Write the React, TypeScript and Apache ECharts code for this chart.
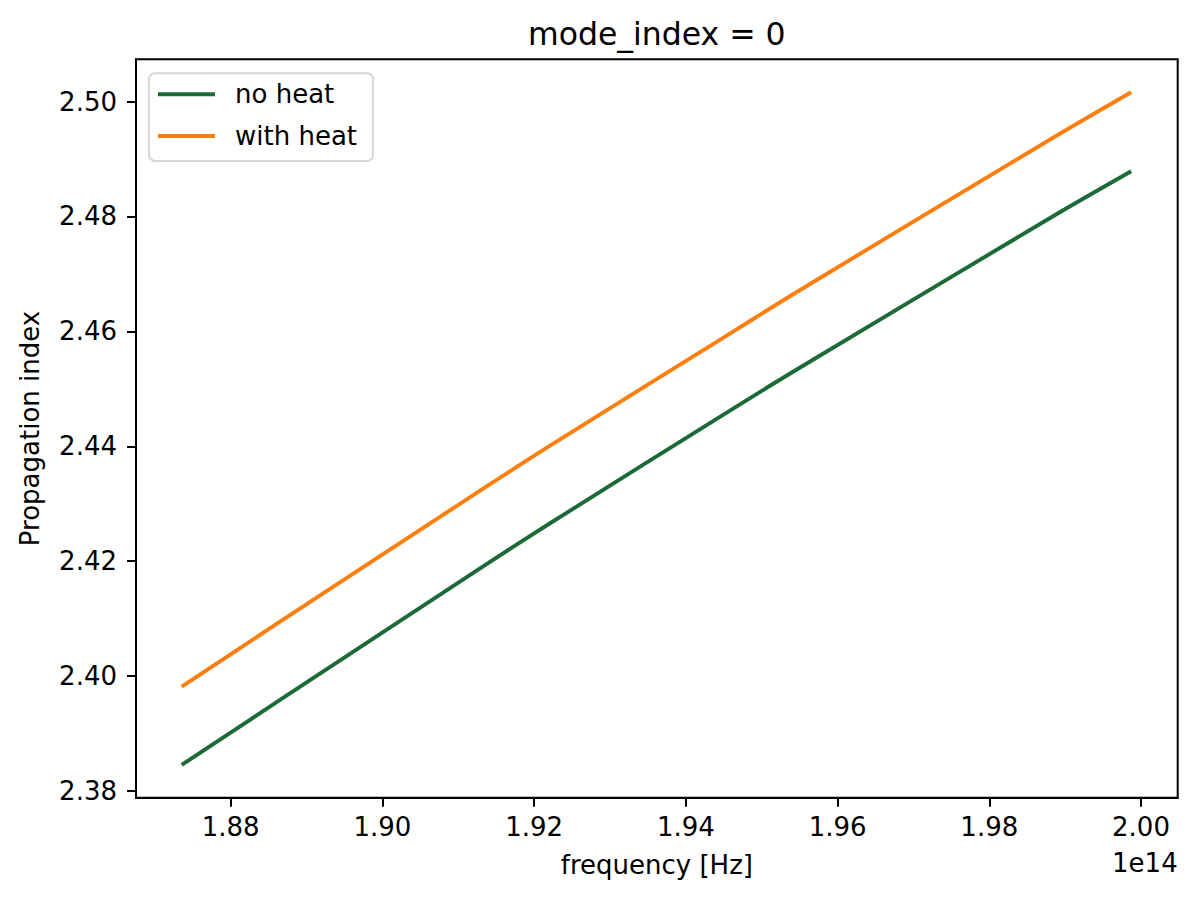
import React, { useEffect, useRef } from "react";
import * as echarts from "echarts";

// frequency in units of 1e14 Hz
const frequency = [1.87354, 1.8865, 1.91287, 1.9221, 1.94671, 1.95506, 1.98802, 1.9987];
const noHeat = [2.38453, 2.39584, 2.41876, 2.4266, 2.44696, 2.45372, 2.47974, 2.48787];
const withHeat = [2.39816, 2.40947, 2.43227, 2.4401, 2.46036, 2.4672, 2.4934, 2.50162];
const xTicks = [1.88, 1.9, 1.92, 1.94, 1.96, 1.98, 2.0];
const yTicks = [2.38, 2.4, 2.42, 2.44, 2.46, 2.48, 2.5];
const seriesNames = ["no heat", "with heat"];

const FONT = "DejaVu Sans";

export default function App() {
  const ref = useRef<HTMLDivElement>(null);
  useEffect(() => {
    if (!ref.current) return;
    const chart = echarts.init(ref.current, null, { renderer: "svg" });
    const pairs = (ys: number[]) => frequency.map((f, i) => [f, ys[i]]);
    chart.setOption({
      animation: false,
      backgroundColor: "#ffffff",
      title: {
        text: "mode_index = 0",
        left: 656.8,
        textAlign: "center",
        top: 18,
        padding: 0,
        textStyle: { fontFamily: FONT, fontSize: 31.5, fontWeight: "normal", color: "#000" },
      },
      grid: {
        left: 136,
        right: 18.3,
        top: 59.3,
        bottom: 103.3,
        show: true,
        borderColor: "#000",
        borderWidth: 2,
        backgroundColor: "transparent",
        containLabel: false,
        outerBoundsMode: "none",
      },
      legend: {
        orient: "vertical",
        left: 149,
        top: 73.3,
        data: seriesNames,
        icon: "rect",
        itemWidth: 57,
        itemHeight: 4,
        itemGap: 15.7,
        padding: [8, 16, 12, 9],
        backgroundColor: "rgba(255,255,255,0.8)",
        borderColor: "#d6d6d6",
        borderWidth: 2,
        borderRadius: 6,
        textStyle: {
          fontFamily: FONT,
          fontSize: 26,
          color: "#000",
          padding: [0, 0, 0, 15],
        },
      },
      xAxis: {
        type: "value",
        min: 1.867515,
        max: 2.004838,
        name: "frequency [Hz]",
        nameLocation: "middle",
        nameGap: 54,
        nameTextStyle: { fontFamily: FONT, fontSize: 26, color: "#000" },
        axisLine: { show: true, onZero: false, lineStyle: { color: "#000", width: 2 } },
        axisTick: {
          show: true,
          length: 9,
          inside: false,
          customValues: xTicks,
          lineStyle: { color: "#000", width: 2 },
        },
        axisLabel: {
          show: true,
          margin: 16,
          customValues: xTicks,
          fontFamily: FONT,
          fontSize: 26,
          color: "#000",
          formatter: (v: number) => v.toFixed(2),
        },
        splitLine: { show: false },
      },
      yAxis: {
        type: "value",
        min: 2.37883,
        max: 2.50736,
        name: "Propagation index",
        nameLocation: "middle",
        nameGap: 93,
        nameTextStyle: { fontFamily: FONT, fontSize: 26, color: "#000" },
        axisLine: { show: true, onZero: false, lineStyle: { color: "#000", width: 2 } },
        axisTick: {
          show: true,
          length: 9,
          inside: false,
          customValues: yTicks,
          lineStyle: { color: "#000", width: 2 },
        },
        axisLabel: {
          show: true,
          margin: 19,
          customValues: yTicks,
          fontFamily: FONT,
          fontSize: 26,
          color: "#000",
          formatter: (v: number) => v.toFixed(2),
        },
        splitLine: { show: false },
      },
      graphic: [
        {
          type: "text",
          x: 1177.7,
          y: 863,
          style: {
            text: "1e14",
            fontFamily: FONT,
            fontSize: 26,
            fill: "#000",
            align: "right",
            verticalAlign: "middle",
          },
        },
      ],
      series: [
        {
          name: seriesNames[0],
          type: "line",
          data: pairs(noHeat),
          symbol: "none",
          showSymbol: false,
          smooth: 0.3,
          itemStyle: { color: "#1b6a37" },
          lineStyle: { color: "#1b6a37", width: 3.9 },
        },
        {
          name: seriesNames[1],
          type: "line",
          data: pairs(withHeat),
          symbol: "none",
          showSymbol: false,
          smooth: 0.3,
          itemStyle: { color: "#ff7f0e" },
          lineStyle: { color: "#ff7f0e", width: 3.9 },
        },
      ],
    });
    return () => chart.dispose();
  }, []);
  return (
    <div
      ref={ref}
      style={{ position: "absolute", left: 0, top: 0, width: "1196px", height: "901px" }}
    />
  );
}
